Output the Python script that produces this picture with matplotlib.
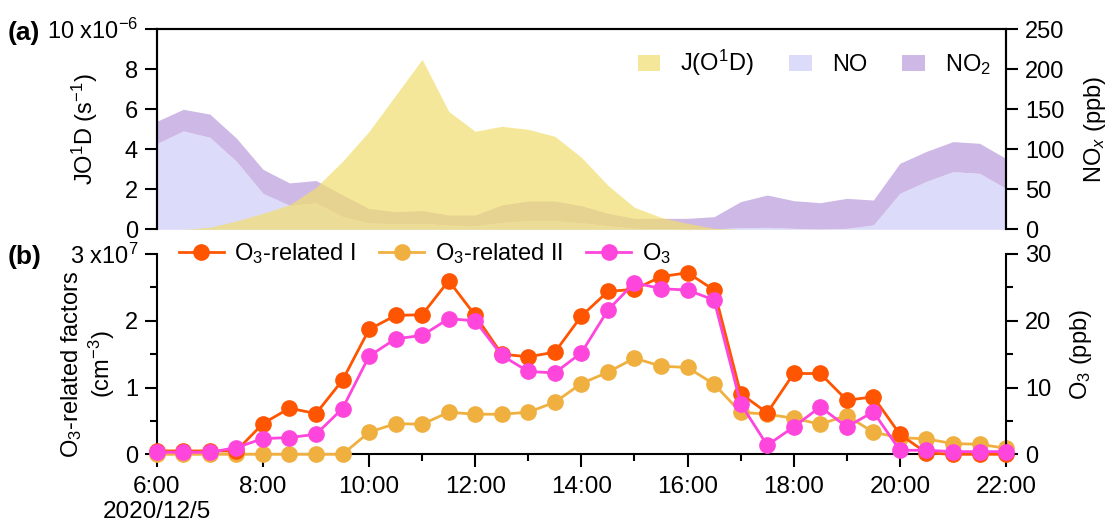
import numpy as np
import pandas as pd
import matplotlib
matplotlib.use('Agg')
import matplotlib.pyplot as plt
import matplotlib.dates as mdates
from matplotlib.patches import Patch
from matplotlib.ticker import MultipleLocator, FuncFormatter

plt.rcParams['font.family'] = ['Liberation Sans', 'DejaVu Sans']
plt.rcParams['mathtext.fontset'] = 'custom'
plt.rcParams['mathtext.rm'] = 'Liberation Sans'
plt.rcParams['mathtext.it'] = 'Liberation Sans:italic'
plt.rcParams['mathtext.bf'] = 'Liberation Sans:bold'
plt.rcParams['font.size'] = 17

# half-hourly samples, 2020/12/5 06:00 - 22:00
times = pd.date_range('2020-12-05 06:00', '2020-12-05 22:00', freq='30min')

# panel (a)
j_o1d = [0, 0, 0.1, 0.42, 0.8, 1.22, 2.1, 3.4, 4.9, 6.7, 8.5, 5.9, 4.9, 5.15, 5.0, 4.65,
         3.6, 2.2, 1.1, 0.6, 0.3, 0.05, 0, 0, 0, 0, 0, 0, 0, 0, 0, 0, 0]  # x1e-6 s-1
no = [107, 123, 115, 85, 45, 30, 33, 16, 8, 7, 7.5, 5.4, 4.5, 8.7, 10.8, 10.8,
      8.3, 4.5, 1.2, 1, 0.5, 0.5, 2, 2.5, 1.2, 0.4, 1.2, 5.4, 45, 60, 72, 70, 51]
no2 = [28, 27, 29, 29, 30, 28, 28, 27, 18, 15, 16, 12.5, 13.4, 21.7, 24.6, 24.6,
       21.2, 15.5, 12.5, 12.7, 13.2, 15.3, 32.6, 40.4, 34.6, 32.9, 37.5, 31.2, 37.5, 37.4, 37.6, 37.5, 37.5]

# panel (b)
o3_rel_1 = [0.05, 0.05, 0.05, 0.05, 0.46, 0.69, 0.61, 1.11, 1.87, 2.08, 2.09, 2.60, 2.08, 1.50, 1.46, 1.53,
            2.07, 2.44, 2.47, 2.66, 2.72, 2.46, 0.91, 0.62, 1.21, 1.21, 0.81, 0.86, 0.30, 0.02, 0.0, 0.0, 0.0]
o3_rel_2 = [0.0, 0.0, 0.0, 0.0, 0.0, 0.0, 0.0, 0.0, 0.33, 0.46, 0.45, 0.63, 0.60, 0.60, 0.63, 0.78,
            1.06, 1.23, 1.44, 1.32, 1.30, 1.05, 0.63, 0.60, 0.54, 0.45, 0.58, 0.33, 0.25, 0.23, 0.16, 0.15, 0.09]
o3 = [0.3, 0.3, 0.3, 1.0, 2.35, 2.5, 3.0, 6.85, 14.7, 17.3, 17.8, 20.3, 20.0, 14.8, 12.4, 12.2,
      15.2, 21.6, 25.7, 24.8, 24.6, 23.1, 7.6, 1.35, 4.1, 7.1, 4.1, 6.35, 0.6, 0.6, 0.4, 0.4, 0.4]

C_J = '#F2DE6E'
C_NO = '#DCDCFA'
C_NO2 = '#CDB8E6'
C_I = '#FF5500'
C_II = '#F0B040'
C_O3 = '#FF46DC'

no_arr = np.array(no)
nox_arr = no_arr + np.array(no2)

fig = plt.figure(figsize=(11.07, 5.25), dpi=100)
ax_a = fig.add_axes([0.1416, 0.5632, 0.7672, 0.381])
ax_a2 = ax_a.twinx()
ax_b = fig.add_axes([0.1416, 0.1347, 0.7672, 0.3815])
ax_b2 = ax_b.twinx()

xmin, xmax = times[0], times[-1]


def style_axis(ax, width=1.5):
    for s in ax.spines.values():
        s.set_linewidth(width)
    ax.tick_params(which='major', direction='out', length=8.5, width=1.5, pad=5, labelsize=17)
    ax.tick_params(which='minor', direction='out', length=5, width=1.5)


# ---- panel (a)
ax_a2.fill_between(times, 0, no_arr, color=C_NO, lw=0)
ax_a2.fill_between(times, no_arr, nox_arr, color=C_NO2, lw=0)
ax_a.fill_between(times, 0, j_o1d, color=C_J, alpha=0.7, lw=0)
ax_a.set_zorder(ax_a2.get_zorder() + 1)
ax_a.patch.set_visible(False)

ax_a.set_xlim(xmin, xmax)
ax_a.set_ylim(0, 10)
ax_a2.set_ylim(0, 250)
ax_a.set_yticks([0, 2, 4, 6, 8, 10])
ax_a.set_yticklabels(['0', '2', '4', '6', '8', '10 x10$^{-6}$'])
ax_a2.set_yticks([0, 50, 100, 150, 200, 250])
for ax in (ax_a, ax_a2):
    style_axis(ax)
    ax.spines['bottom'].set_visible(False)
    ax.tick_params(axis='x', which='both', bottom=False, labelbottom=False)
ax_a.set_ylabel('JO$^1$D (s$^{-1}$)')
ax_a.yaxis.set_label_coords(-0.067, 0.5)
ax_a2.set_ylabel('NO$_x$ (ppb)')
ax_a2.yaxis.set_label_coords(1.09, 0.5)

handles_a = [Patch(color=C_J, alpha=0.7, lw=0), Patch(color=C_NO, lw=0), Patch(color=C_NO2, lw=0)]
ax_a.legend(handles_a, ['J(O$^1$D)', 'NO', 'NO$_2$'], ncol=3, frameon=False,
            loc='center right', bbox_to_anchor=(0.985, 0.83), borderaxespad=0, borderpad=0.1,
            handlelength=0.95, handleheight=0.64, handletextpad=0.85, columnspacing=1.5, fontsize=17)

# ---- panel (b)
mk = dict(marker='o', markersize=11, lw=2, clip_on=False)
l1, = ax_b.plot(times, o3_rel_2, color=C_II, zorder=3, **mk)
l2, = ax_b.plot(times, o3_rel_1, color=C_I, zorder=4, **mk)
l3, = ax_b2.plot(times, o3, color=C_O3, zorder=5, **mk)

ax_b.set_xlim(xmin, xmax)
ax_b.set_ylim(0, 3)
ax_b2.set_ylim(0, 30)
ax_b.set_yticks([0, 1, 2, 3])
ax_b.set_yticklabels(['0', '1', '2', '3 x10$^7$'])
ax_b.yaxis.set_minor_locator(MultipleLocator(0.5))
ax_b2.set_yticks([0, 10, 20, 30])
ax_b2.yaxis.set_minor_locator(MultipleLocator(5))
for ax in (ax_b, ax_b2):
    style_axis(ax)
    ax.spines['top'].set_visible(False)
ax_b.spines['right'].set_visible(False)
ax_b2.spines['left'].set_visible(False)
ax_b2.spines['bottom'].set_visible(False)

ax_b.xaxis.set_major_locator(mdates.HourLocator(byhour=range(6, 23, 2)))
ax_b.xaxis.set_minor_locator(mdates.HourLocator())


def fmt_time(v, pos):
    d = mdates.num2date(v)
    if d.hour == 6:
        return '6:00\n2020/12/5'
    return f'{d.hour}:00'


ax_b.xaxis.set_major_formatter(FuncFormatter(fmt_time))
ax_b.tick_params(axis='x', which='major', length=9.5, pad=6, labelsize=17.5)
ax_b.set_ylabel('O$_3$-related factors\n(cm$^{-3}$)', linespacing=1.1)
ax_b.yaxis.set_label_coords(-0.047, 0.45)
ax_b2.set_ylabel('O$_3$ (ppb)')
ax_b2.yaxis.set_label_coords(1.073, 0.5)

ax_b2.legend([l2, l1, l3], ['O$_3$-related I', 'O$_3$-related II', 'O$_3$'], ncol=3, frameon=False,
             loc='center left', bbox_to_anchor=(0.026, 1.0), borderaxespad=0, borderpad=0,
             handlelength=1.9, handletextpad=0.45, columnspacing=1.0, fontsize=17)

fig.text(8 / 1107, 1 - 33 / 525, '(a)', fontsize=19, fontweight='bold', va='center')
fig.text(8 / 1107, 1 - 257 / 525, '(b)', fontsize=19, fontweight='bold', va='center')

fig.savefig('out.png', dpi=100)
